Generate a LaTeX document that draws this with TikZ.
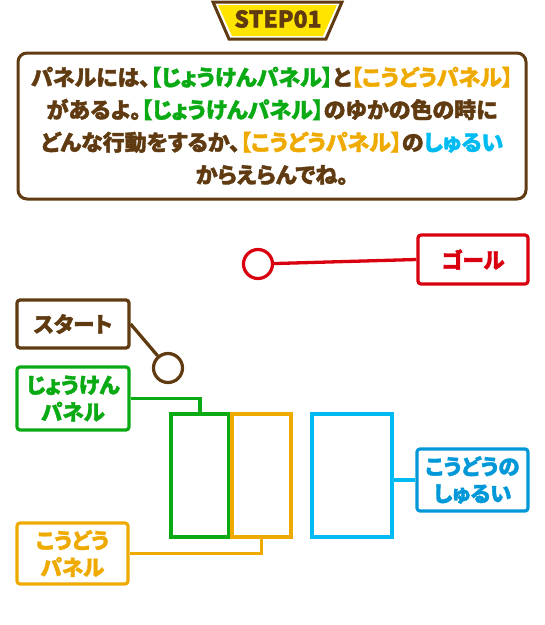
\documentclass[tikz,border=0pt]{standalone}
\usepackage{fontspec}
\newfontfamily\jp{Noto Sans CJK JP Black}[RawFeature=+palt, FakeBold=1.6]
\usetikzlibrary{positioning}

\definecolor{brn}{HTML}{603A10}
\definecolor{grn}{HTML}{0AAA14}
\definecolor{org}{HTML}{EFAA00}
\definecolor{sky}{HTML}{00BBF2}
\definecolor{skyd}{HTML}{0098D8}
\definecolor{red}{HTML}{D9000F}
\definecolor{ylw}{HTML}{FFE400}

\begin{document}
\begin{tikzpicture}[x=1pt, y=-1pt, font=\jp,
    lbl/.style={draw=#1, text=#1, line width=3.2pt, rounded corners=3pt, fill=white,
      inner sep=0pt, align=center, font=\jp\fontsize{21.5}{27}\selectfont},
    panel/.style={draw, line width=4pt, inner sep=0pt, minimum width=#1, minimum height=123pt},
    conn/.style={line width=3.3pt},
    ring/.style={draw=#1, circle, line width=3.2pt, minimum size=29pt, inner sep=0pt, fill=white}]

    \useasboundingbox (0,0) rectangle (545,625);

    % step badge
    \draw[brn, line width=3pt, fill=white] (213,2) -- (342,2) -- (326,39) -- (229,39) -- cycle;
    \fill[ylw] (218,5) -- (337,5) -- (323,36) -- (232,36) -- cycle;
    \node[brn, font=\jp\fontsize{23}{23}\selectfont] (step) at (278,19) {STEP01};

    % question box
    \node[draw=brn, line width=3pt, rounded corners=9pt, minimum width=508pt, minimum height=146pt,
      align=center, text=brn, font=\jp\fontsize{22}{32.5}\selectfont] (intro) at (272,126)
      {パネルには、\textcolor{grn}{【じょうけんパネル】}と\textcolor{org}{【こうどうパネル】}\\
       があるよ。\textcolor{grn}{【じょうけんパネル】}のゆかの色の時に\\
       どんな行動をするか、\textcolor{org}{【こうどうパネル】}の\textcolor{sky}{しゅるい}\\
       からえらんでね。};

    % goal
    \node[ring=red] (goalc) at (258,264) {};
    \node[lbl=red, minimum width=110pt, minimum height=49pt] (goal) at (473,259.5) {ゴール};
    \draw[conn, red] (goalc) -- (goal.west);

    % start
    \node[ring=brn] (startc) at (168,368) {};
    \node[lbl=brn, minimum width=112pt, minimum height=48pt] (start) at (73,324) {スタート};
    \draw[conn, brn] (start.east) -- (startc);

    % panels
    \node[panel=58pt, grn] (jpanel) at (200,475.5) {};
    \node[panel=59pt, org] (kpanel) at (261.5,475.5) {};
    \node[panel=80pt, sky] (spanel) at (352,475.5) {};

    \node[lbl=grn, minimum width=112pt, minimum height=63pt] (jlabel) at (73,398.5) {じょうけん\\パネル};
    \node[lbl=org, minimum width=111pt, minimum height=61pt] (klabel) at (72.5,553.5) {こうどう\\パネル};
    \node[lbl=skyd, minimum width=111pt, minimum height=62pt] (slabel) at (472.5,480) {こうどうの\\しゅるい};

    \draw[conn, grn] (jlabel.east) -| (jpanel.north);
    \draw[conn, org] (kpanel.south) |- (klabel.east);
    \draw[conn, sky] (spanel.east |- slabel.west) -- (slabel.west);

  \end{tikzpicture}
\end{document}
